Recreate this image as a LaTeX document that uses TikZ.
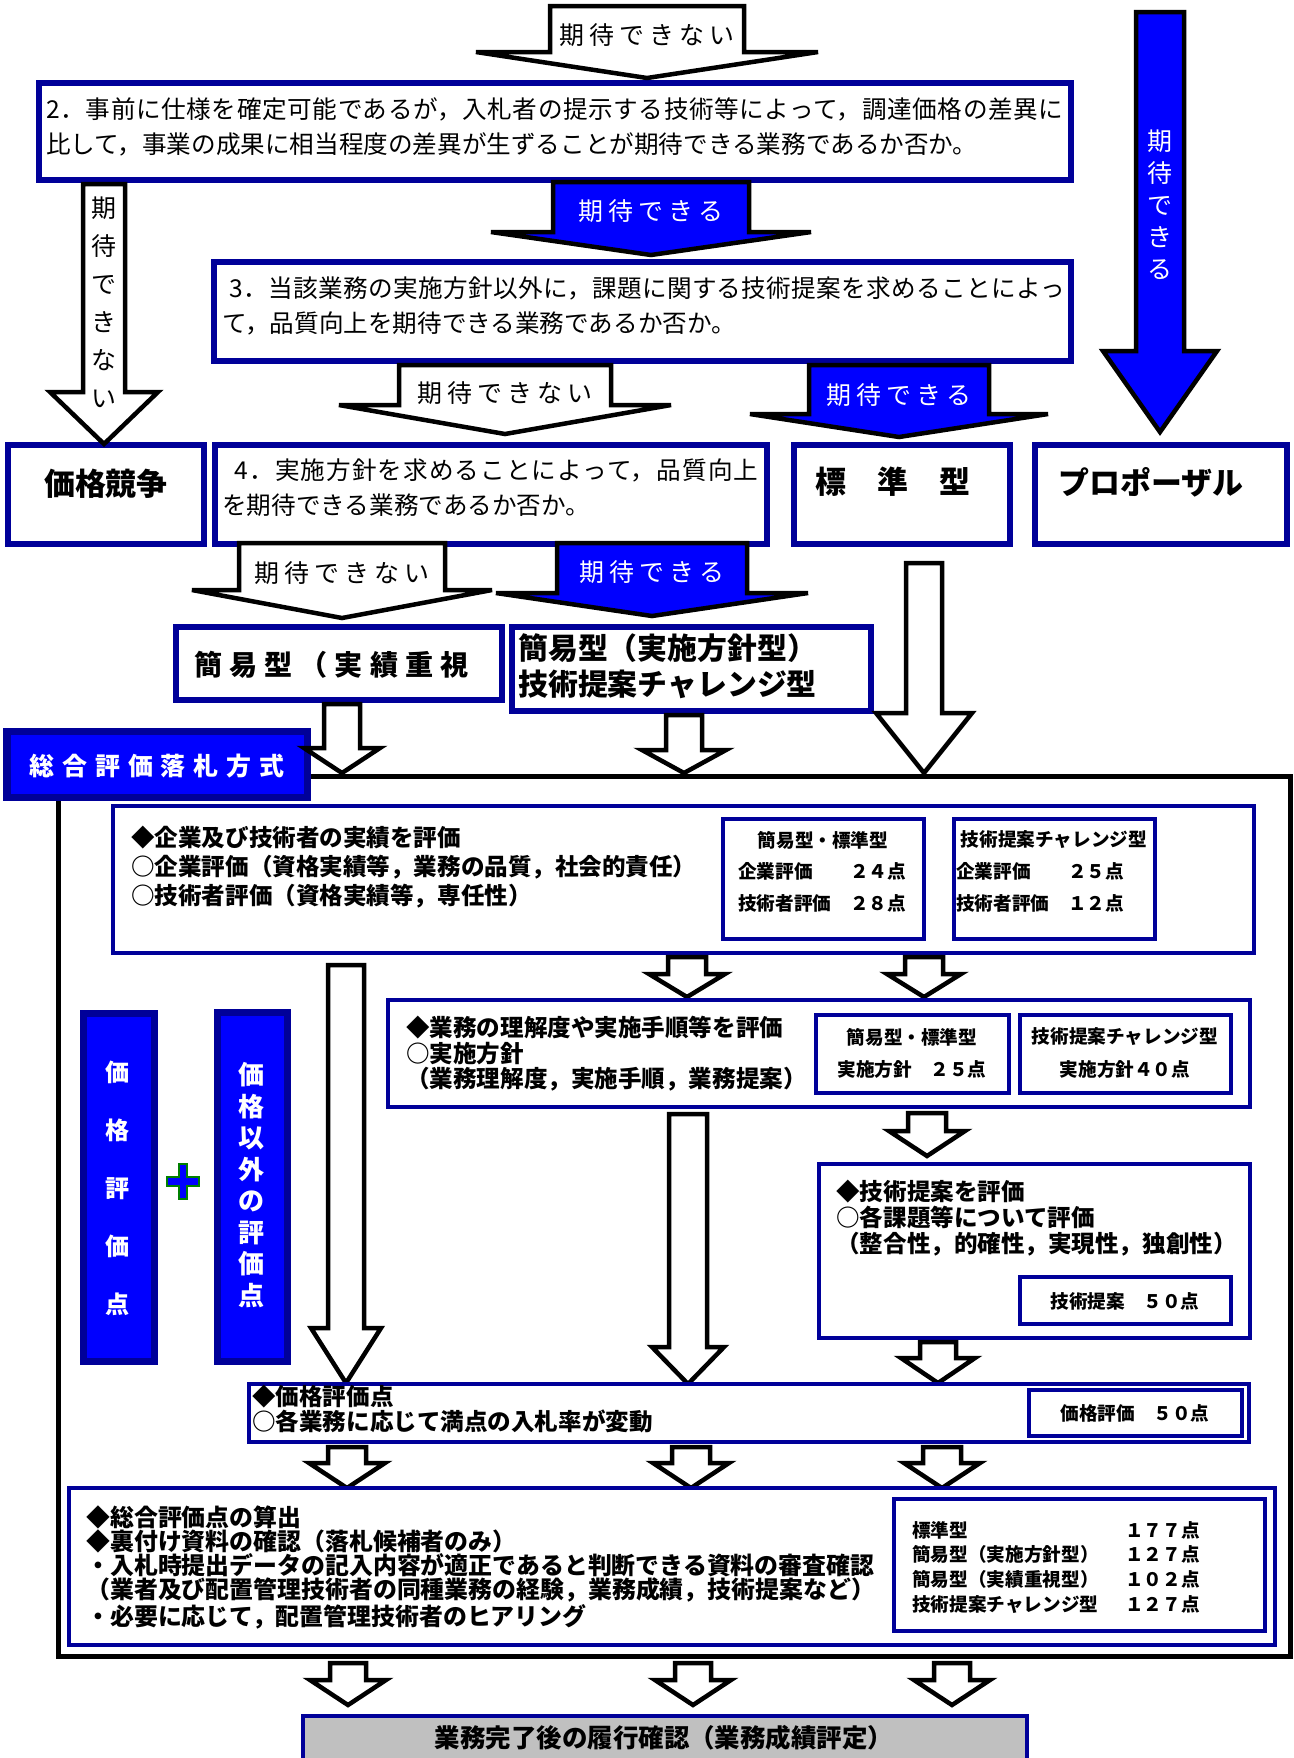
\documentclass[tikz,border=0pt]{standalone}
\usepackage{fontspec}
\setmainfont{Noto Sans CJK JP}
\usetikzlibrary{fit}

\definecolor{navy}{RGB}{0,0,153}
\definecolor{fillblue}{RGB}{0,0,255}
\definecolor{lgray}{RGB}{192,192,192}

\newcommand{\blockarrow}[7][white]{%
  \draw[barrow,fill=#1] (#2-#4,#3) -- (#2+#4,#3) -- (#2+#4,#5) -- (#2+#6,#5)
    -- (#2,#7) -- (#2-#6,#5) -- (#2-#4,#5) -- cycle;}
\newcommand{\bodyfont}[1]{\bfseries\fontsize{13.4pt}{#1}\selectfont}
\newcommand{\spreadline}[2]{{\addfontfeatures{LetterSpace=#1}#2}}

\tikzset{
  qbox/.style={draw=navy,fill=white,line width=1.3mm,inner sep=0pt},
  sbox/.style={draw=navy,fill=white,line width=0.8mm,inner sep=0pt},
  bbox/.style={draw=navy,fill=fillblue,line width=1.4mm,inner sep=0pt},
  barrow/.style={draw=black,line width=0.9mm,line join=miter},
  lbl/.style={inner sep=0pt,font=\fontsize{14.2pt}{18pt}\selectfont\addfontfeatures{LetterSpace=20}},
  vlbl/.style={inner sep=0pt,align=center},
  qtxt/.style={inner sep=0pt,anchor=north west,align=left,font=\fontsize{14pt}{20.2pt}\selectfont},
  btxt/.style={inner sep=0pt,anchor=north west,align=left},
  htxt/.style={inner sep=0pt,font=\bfseries\fontsize{17.6pt}{20pt}\selectfont},
  stxt/.style={inner sep=0pt,align=left,font=\bfseries\fontsize{10.6pt}{18.2pt}\selectfont},
}

\begin{document}
\begin{tikzpicture}[x=0.2mm,y=-0.2mm]
  \useasboundingbox (0,0) rectangle (1294,1758);

  \node[qbox,fit={(39,83) (1071,180)}] (q2) {};
  \node[qtxt] (q2t) at (46,97) {\spreadline{2.5}{2．事前に仕様を確定可能であるが，入札者の提示する技術等によって，調達価格の差異に}\\比して，事業の成果に相当程度の差異が生ずることが期待できる業務であるか否か。};
  \node[qbox,fit={(214,262) (1071,361)}] (q3) {};
  \node[qtxt] (q3t) at (222,276) {\spreadline{1.5}{\hspace*{0.3em}3．当該業務の実施方針以外に，課題に関する技術提案を求めることによっ}\\て，品質向上を期待できる業務であるか否か。};
  \node[qbox,fit={(8,445) (204,544)}] (price) {};
  \node[htxt] (pricet) at (106,484) {価格競争};
  \node[qbox,fit={(215,445) (767,544)}] (q4) {};
  \node[qtxt] (q4t) at (222,458) {\spreadline{4.4}{\hspace*{0.5em}4．実施方針を求めることによって，品質向上}\\を期待できる業務であるか否か。};
  \node[qbox,fit={(794,445) (1010,544)}] (standard) {};
  \node[htxt,anchor=west] (standardt) at (815,482) {標　準　型};
  \node[qbox,fit={(1035,445) (1287,544)}] (proposal) {};
  \node[htxt,anchor=west] (proposalt) at (1058,482) {プロポーザル};

  \blockarrow{647}{6}{97}{52}{171}{78}
  \node[lbl] (no1) at (647,35) {期待できない};
  \blockarrow{104}{184}{21}{392}{54}{444}
  \node[vlbl,font=\fontsize{14.2pt}{21.6pt}\selectfont] (no2) at (104,302) {期\\待\\で\\き\\な\\い};
  \blockarrow[fillblue]{1160}{12}{24}{351}{57}{432}
  \node[vlbl,text=white,font=\fontsize{14.2pt}{18.2pt}\selectfont] (yes1) at (1160,205) {期\\待\\で\\き\\る};
  \blockarrow[fillblue]{651}{182}{98}{232}{160}{255}
  \node[lbl,text=white] (yes2) at (651,211) {期待できる};
  \blockarrow{505}{365}{106}{405}{166}{434}
  \node[lbl] (no3) at (505,393) {期待できない};
  \blockarrow[fillblue]{899}{365}{90}{414}{149}{437}
  \node[lbl,text=white] (yes3) at (899,395) {期待できる};
  \blockarrow{342}{543}{103}{590}{150}{618}
  \node[lbl] (no4) at (342,573) {期待できない};
  \blockarrow[fillblue]{652}{543}{95}{593}{156}{616}
  \node[lbl,text=white] (yes4) at (652,572) {期待できる};

  \node[qbox,fit={(176,627) (502,700)}] (simple) {};
  \node[inner sep=0pt,anchor=west,font=\bfseries\fontsize{16pt}{18pt}\selectfont\addfontfeatures{LetterSpace=25}] (simplet) at (194,665) {簡易型（実績重視};
  \node[qbox,fit={(512,627) (871,711)}] (simplepol) {};
  \node[btxt,font=\bfseries\fontsize{17pt}{20.5pt}\selectfont] (simplepolt) at (518,633) {簡易型（実施方針型）\\技術提案チャレンジ型};

  \node[draw=black,line width=1mm,inner sep=0pt,fit={(58,776) (1290,1656)}] (frame) {};
  \node[bbox,fit={(7,731) (307,797)}] (sogo) {};
  \node[inner sep=0pt,text=white,font=\bfseries\fontsize{14.2pt}{16pt}\selectfont\addfontfeatures{LetterSpace=32}] (sogot) at (157,766) {総合評価落札方式};

  \blockarrow{342}{704}{18}{748}{38}{773}
  \blockarrow{684}{715}{18}{750}{42}{773}
  \blockarrow{924}{563}{18}{713}{48}{773}

  \node[sbox,fit={(113,806) (1254,953)}] (perf) {};
  \node[btxt,font=\bodyfont{16.5pt}] (perft) at (131,826) {◆企業及び技術者の実績を評価\\○企業評価（資格実績等，業務の品質，社会的責任）\\○技術者評価（資格実績等，専任性）};
  \node[sbox,fit={(723,819) (924,939)}] (perfa) {};
  \node[stxt] (perfah) at (823,840) {簡易型・標準型};
  \node[stxt,anchor=north west] (perfat) at (738,862) {企業評価　　２４点\\技術者評価　２８点};
  \node[sbox,fit={(954,819) (1155,939)}] (perfb) {};
  \node[stxt] (perfbh) at (1054,840) {技術提案チャレンジ型};
  \node[stxt,anchor=north west] (perfbt) at (956,862) {企業評価　　２５点\\技術者評価　１２点};

  \blockarrow{687}{957}{19}{974}{38}{997}
  \blockarrow{924}{957}{19}{974}{37}{997}

  \node[sbox,fit={(388,1000) (1250,1107)}] (policy) {};
  \node[btxt,font=\bodyfont{14.5pt}] (policyt) at (406,1016) {◆業務の理解度や実施手順等を評価\\○実施方針\\（業務理解度，実施手順，業務提案）};
  \node[sbox,fit={(816,1015) (1009,1093)}] (policya) {};
  \node[stxt] (policyah) at (912,1037) {簡易型・標準型};
  \node[stxt] (policyat) at (912,1069) {実施方針　２５点};
  \node[sbox,fit={(1020,1015) (1231,1093)}] (policyb) {};
  \node[stxt] (policybh) at (1125,1037) {技術提案チャレンジ型};
  \node[stxt] (policybt) at (1125,1069) {実施方針４０点};

  \blockarrow{346}{965}{18}{1328}{35}{1383}
  \blockarrow{688}{1114}{19}{1347}{36}{1384}
  \blockarrow{927}{1113}{19}{1131}{38}{1156}

  \node[sbox,fit={(819,1164) (1250,1338)}] (tech) {};
  \node[btxt,font=\bodyfont{14.8pt}] (techt) at (836,1180) {◆技術提案を評価\\○各課題等について評価\\（整合性，的確性，実現性，独創性）};
  \node[sbox,fit={(1020,1277) (1231,1324)}] (techa) {};
  \node[stxt] (techat) at (1125,1301) {技術提案　５０点};

  \blockarrow{938}{1342}{18}{1358}{37}{1383}

  \node[bbox,fit={(83,1013) (154,1361)}] (vprice) {};
  \node[vlbl,text=white,font=\bfseries\fontsize{13.7pt}{33pt}\selectfont] (vpricet) at (118,1188) {価\\格\\評\\価\\点};
  \node[bbox,fit={(217,1012) (287,1361)}] (vother) {};
  \node[vlbl,text=white,font=\bfseries\fontsize{14.8pt}{17.9pt}\selectfont] (vothert) at (252,1185) {価\\格\\以\\外\\の\\評\\価\\点};
  \draw[draw=green!50!black,fill=fillblue,line width=0.3mm] (179,1164) -- (187,1164) -- (187,1177) -- (199,1177) -- (199,1186) -- (187,1186) -- (187,1199) -- (179,1199) -- (179,1186) -- (167,1186) -- (167,1177) -- (179,1177) -- cycle;

  \node[sbox,fit={(249,1384) (1249,1442)}] (pricept) {};
  \node[btxt,font=\bodyfont{14.2pt}] (priceptt) at (252,1385) {◆価格評価点\\○各業務に応じて満点の入札率が変動};
  \node[sbox,fit={(1029,1390) (1242,1436)}] (pricepta) {};
  \node[stxt] (priceptat) at (1135,1413) {価格評価　５０点};

  \blockarrow{347}{1447}{19}{1463}{38}{1488}
  \blockarrow{691}{1447}{19}{1463}{38}{1488}
  \blockarrow{942}{1447}{19}{1463}{38}{1488}

  \node[sbox,fit={(69,1488) (1275,1645)}] (total) {};
  \node[btxt,font=\bfseries\fontsize{13.6pt}{13.8pt}\selectfont] (totalt) at (86,1505) {◆総合評価点の算出\\◆裏付け資料の確認（落札候補者のみ）\\・入札時提出データの記入内容が適正であると判断できる資料の審査確認\\（業者及び配置管理技術者の同種業務の経験，業務成績，技術提案など）\\・必要に応じて，配置管理技術者のヒアリング};
  \node[sbox,fit={(894,1499) (1265,1631)}] (totala) {};
  \node[stxt,anchor=north west,font=\bfseries\fontsize{10.6pt}{14pt}\selectfont] (totalat) at (912,1521) {標準型\\簡易型（実施方針型）\\簡易型（実績重視型）\\技術提案チャレンジ型};
  \node[stxt,anchor=north west,font=\bfseries\fontsize{10.6pt}{14pt}\selectfont] (totalas) at (1125,1521) {１７７点\\１２７点\\１０２点\\１２７点};

  \blockarrow{348}{1663}{18}{1680}{38}{1705}
  \blockarrow{693}{1663}{18}{1680}{38}{1705}
  \blockarrow{952}{1663}{18}{1680}{38}{1705}

  \node[sbox,fill=lgray,fit={(303,1716) (1027,1775)}] (final) {};
  \node[inner sep=0pt,font=\bfseries\fontsize{14.5pt}{16pt}\selectfont] (finalt) at (664,1738) {業務完了後の履行確認（業務成績評定）};
\end{tikzpicture}
\end{document}
